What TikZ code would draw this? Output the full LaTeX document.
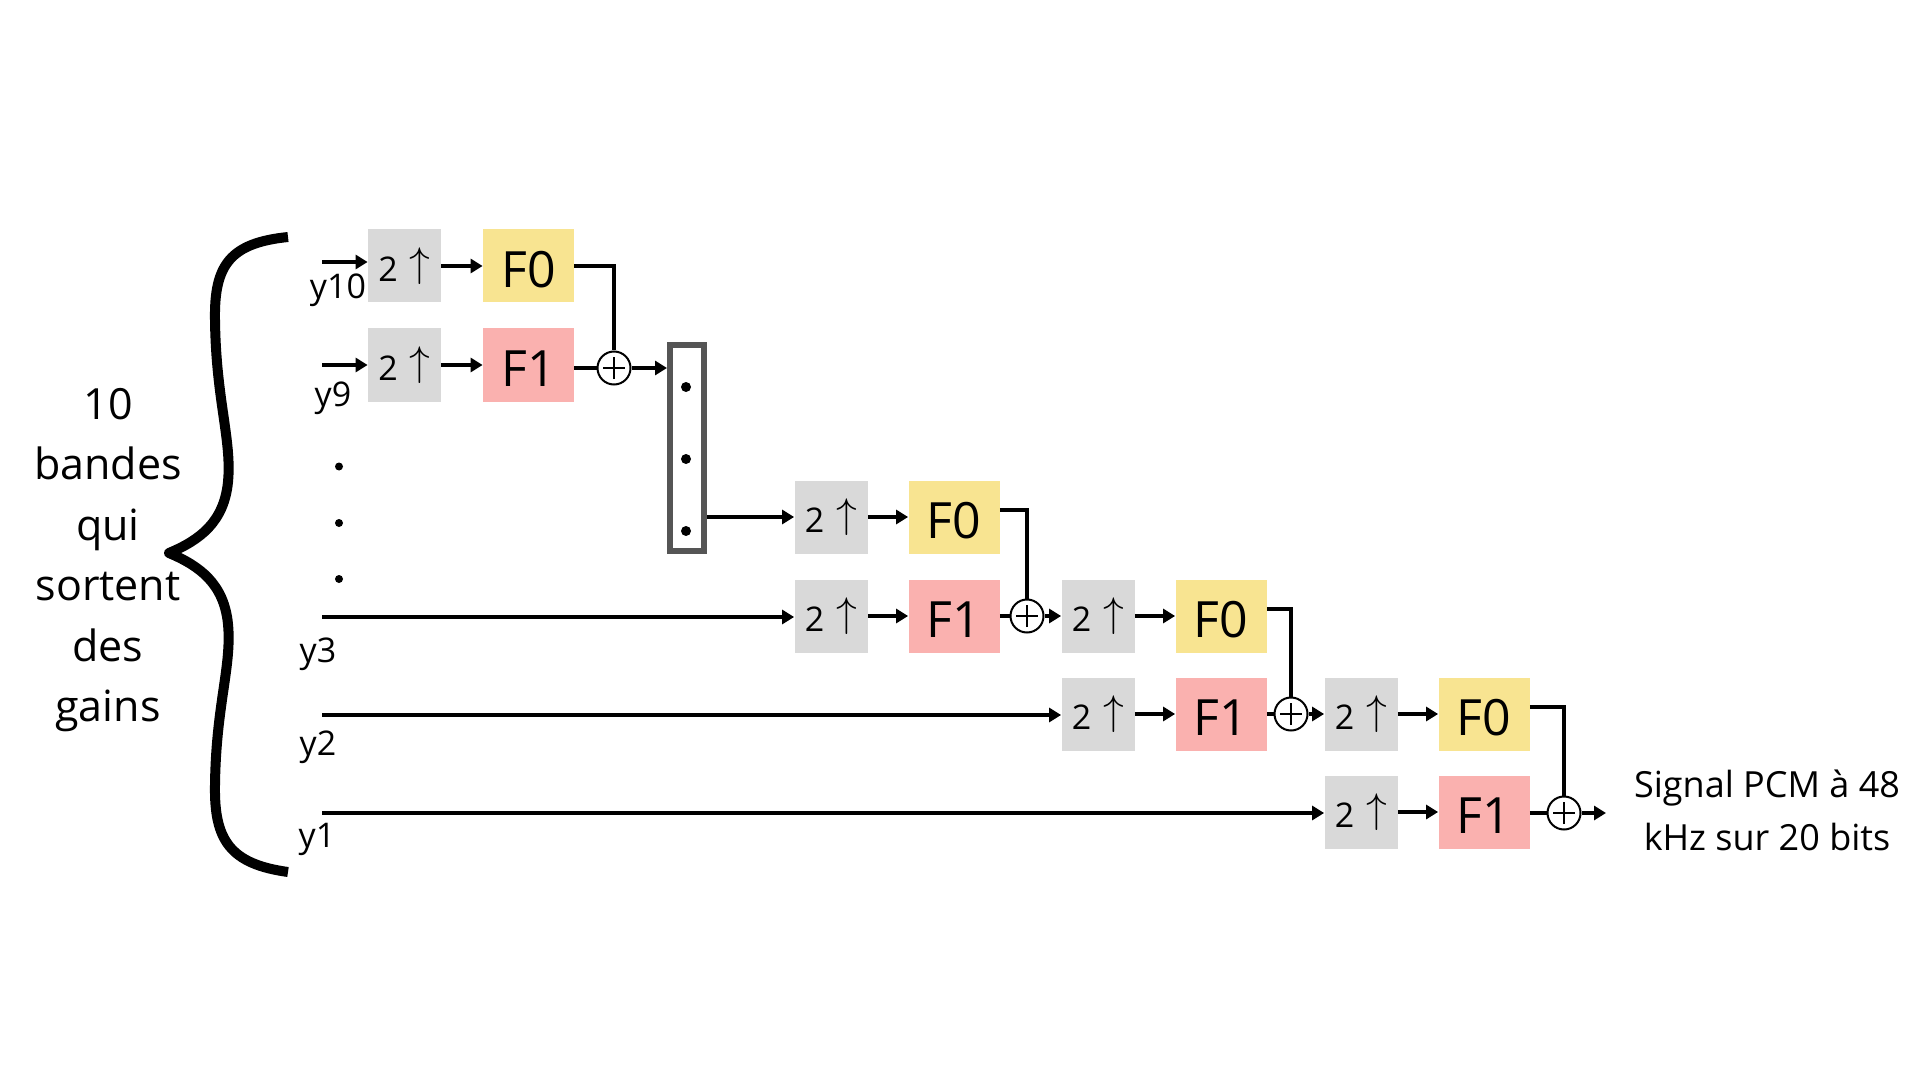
\documentclass[tikz,border=0pt]{standalone}
\usepackage{fontspec}
\setmainfont{Open Sans}
\usetikzlibrary{arrows.meta,calc}
\definecolor{grayc}{RGB}{217,217,217}
\definecolor{yellc}{RGB}{248,228,145}
\definecolor{pinkc}{RGB}{250,177,175}
\definecolor{muxc}{RGB}{85,85,85}
\newcommand{\upsym}{2\hspace{6pt}{\fontsize{20}{24}\selectfont\raisebox{2.5pt}{$\uparrow$}}}
\begin{document}
\begin{tikzpicture}[x=0.5pt,y=-0.5pt,
  upbox/.style={fill=grayc, minimum width=36.5pt, minimum height=36.5pt, inner sep=0pt,
    text height=15.2pt, text depth=0pt, font=\fontsize{17}{20}\selectfont},
  fzero/.style={fill=yellc, minimum width=45.5pt, minimum height=36.5pt, inner sep=0pt,
    text height=21.9pt, text depth=0pt, font=\fontsize{25}{30}\selectfont},
  fone/.style={fzero, fill=pinkc},
  sumnode/.style={circle, draw, line width=1pt, minimum size=16.5pt, inner sep=0pt, fill=white,
    path picture={
      \draw[line width=0.8pt] ([xshift=-5.5pt]path picture bounding box.center) -- ([xshift=5.5pt]path picture bounding box.center);
      \draw[line width=0.8pt] ([yshift=-5.5pt]path picture bounding box.center) -- ([yshift=5.5pt]path picture bounding box.center);
    }},
  conn/.style={line width=2pt},
  arr/.style={conn, -{Triangle[length=6pt,width=7pt]}},
  lab/.style={font=\fontsize{17}{20}\selectfont, inner sep=0pt},
  muxbox/.style={draw=muxc, line width=3pt, minimum width=17pt, minimum height=103pt, inner sep=0pt, fill=white},
]
\useasboundingbox (0,0) rectangle (1920,1080);

% brace
\draw[line width=5pt, line join=round] (288,237)
  .. controls (230,243) and (214,265) .. (215,320)
  .. controls (216,400) and (232,440) .. (228,482)
  .. controls (224,522) and (200,540) .. (169,553)
  .. controls (200,566) and (224,584) .. (228,624)
  .. controls (232,666) and (216,705) .. (215,785)
  .. controls (214,840) and (230,864) .. (288,872);

\node[font=\fontsize{21.5}{30.25}\selectfont, align=center] (desc) at (108,560)
  {10\\bandes\\qui\\sortent\\des\\gains};

% input labels
\node[lab] (l10) at (338,290) {y10};
\node[lab] (l9) at (333,398) {y9};
\node[lab] (l3) at (318,654) {y3};
\node[lab] (l2) at (318,747) {y2};
\node[lab] (l1) at (317,839) {y1};

\coordinate (in10) at (322,262);
\coordinate (in9) at (322,365);
\coordinate (in3) at (322,617);
\coordinate (in2) at (322,715);
\coordinate (in1) at (322,813);

\fill (339,466.5) circle (4);
\fill (339,523) circle (4);
\fill (339,579) circle (4);

% stage 1
\node[upbox] (g10) at (404.5,266) {\upsym};
\node[fzero] (f10) at (528.5,266) {F0};
\node[upbox] (g9) at (404.5,365) {\upsym};
\node[fone] (f9) at (528.5,365) {F1};
\node[sumnode] (s1) at (614,368) {};

\node[muxbox] (mux) at (687,448) {};
\fill (686,387) circle (5);
\fill (686,459) circle (5);
\fill (686,531) circle (5);

% stage 2
\node[upbox] (g8) at (831,517) {\upsym};
\node[fzero] (f8) at (954,517) {F0};
\node[upbox] (g3) at (831,616) {\upsym};
\node[fone] (f3) at (954,616) {F1};
\node[sumnode] (s2) at (1027,616) {};

% stage 3
\node[upbox] (u3a) at (1098,616) {\upsym};
\node[fzero] (h3a) at (1221,616) {F0};
\node[upbox] (u3b) at (1098,714) {\upsym};
\node[fone] (h3b) at (1221,714) {F1};
\node[sumnode] (s3) at (1291,714) {};

% stage 4
\node[upbox] (u4a) at (1361,714) {\upsym};
\node[fzero] (h4a) at (1484,714) {F0};
\node[upbox] (u4b) at (1361,812) {\upsym};
\node[fone] (h4b) at (1484,812) {F1};
\node[sumnode] (s4) at (1564,813) {};
\coordinate (out) at (1606,813);

\node[font=\fontsize{18}{26.5}\selectfont, align=center] (sig) at (1767,810)
  {Signal PCM à 48\\kHz sur 20 bits};

% connectors stage 1
\draw[arr] (in10) -- (g10.west |- in10);
\draw[arr] (in9) -- (g9.west |- in9);
\draw[arr] (g10.east) -- (f10.west);
\draw[arr] (g9.east) -- (f9.west);
\draw[conn] (f10.east) -| (s1.north);
\draw[conn] (f9.east |- s1) -- (s1.west);
\draw[arr] (s1.east) -- (mux.west |- s1);
\draw[arr] (mux.east |- g8) -- (g8.west);

% stage 2
\draw[arr] (in3) -- (g3.west |- in3);
\draw[arr] (g8.east) -- (f8.west);
\draw[arr] (g3.east) -- (f3.west);
\draw[conn] ([yshift=3.5pt]f8.east) -| (s2.north);
\draw[conn] (f3.east |- s2) -- (s2.west);
\draw[arr] (s2.east) -- (u3a.west |- s2);

% stage 3
\draw[arr] (in2) -- (u3b.west |- in2);
\draw[arr] (u3a.east) -- (h3a.west);
\draw[arr] (u3b.east) -- (h3b.west);
\draw[conn] ([yshift=3.5pt]h3a.east) -| (s3.north);
\draw[conn] (h3b.east |- s3) -- (s3.west);
\draw[arr] (s3.east) -- (u4a.west |- s3);

% stage 4
\draw[arr] (in1) -- (u4b.west |- in1);
\draw[arr] (u4a.east) -- (h4a.west);
\draw[arr] (u4b.east) -- (h4b.west);
\draw[conn] ([yshift=3.5pt]h4a.east) -| (s4.north);
\draw[conn] (h4b.east |- s4) -- (s4.west);
\draw[arr] (s4.east) -- (out);
\end{tikzpicture}
\end{document}
